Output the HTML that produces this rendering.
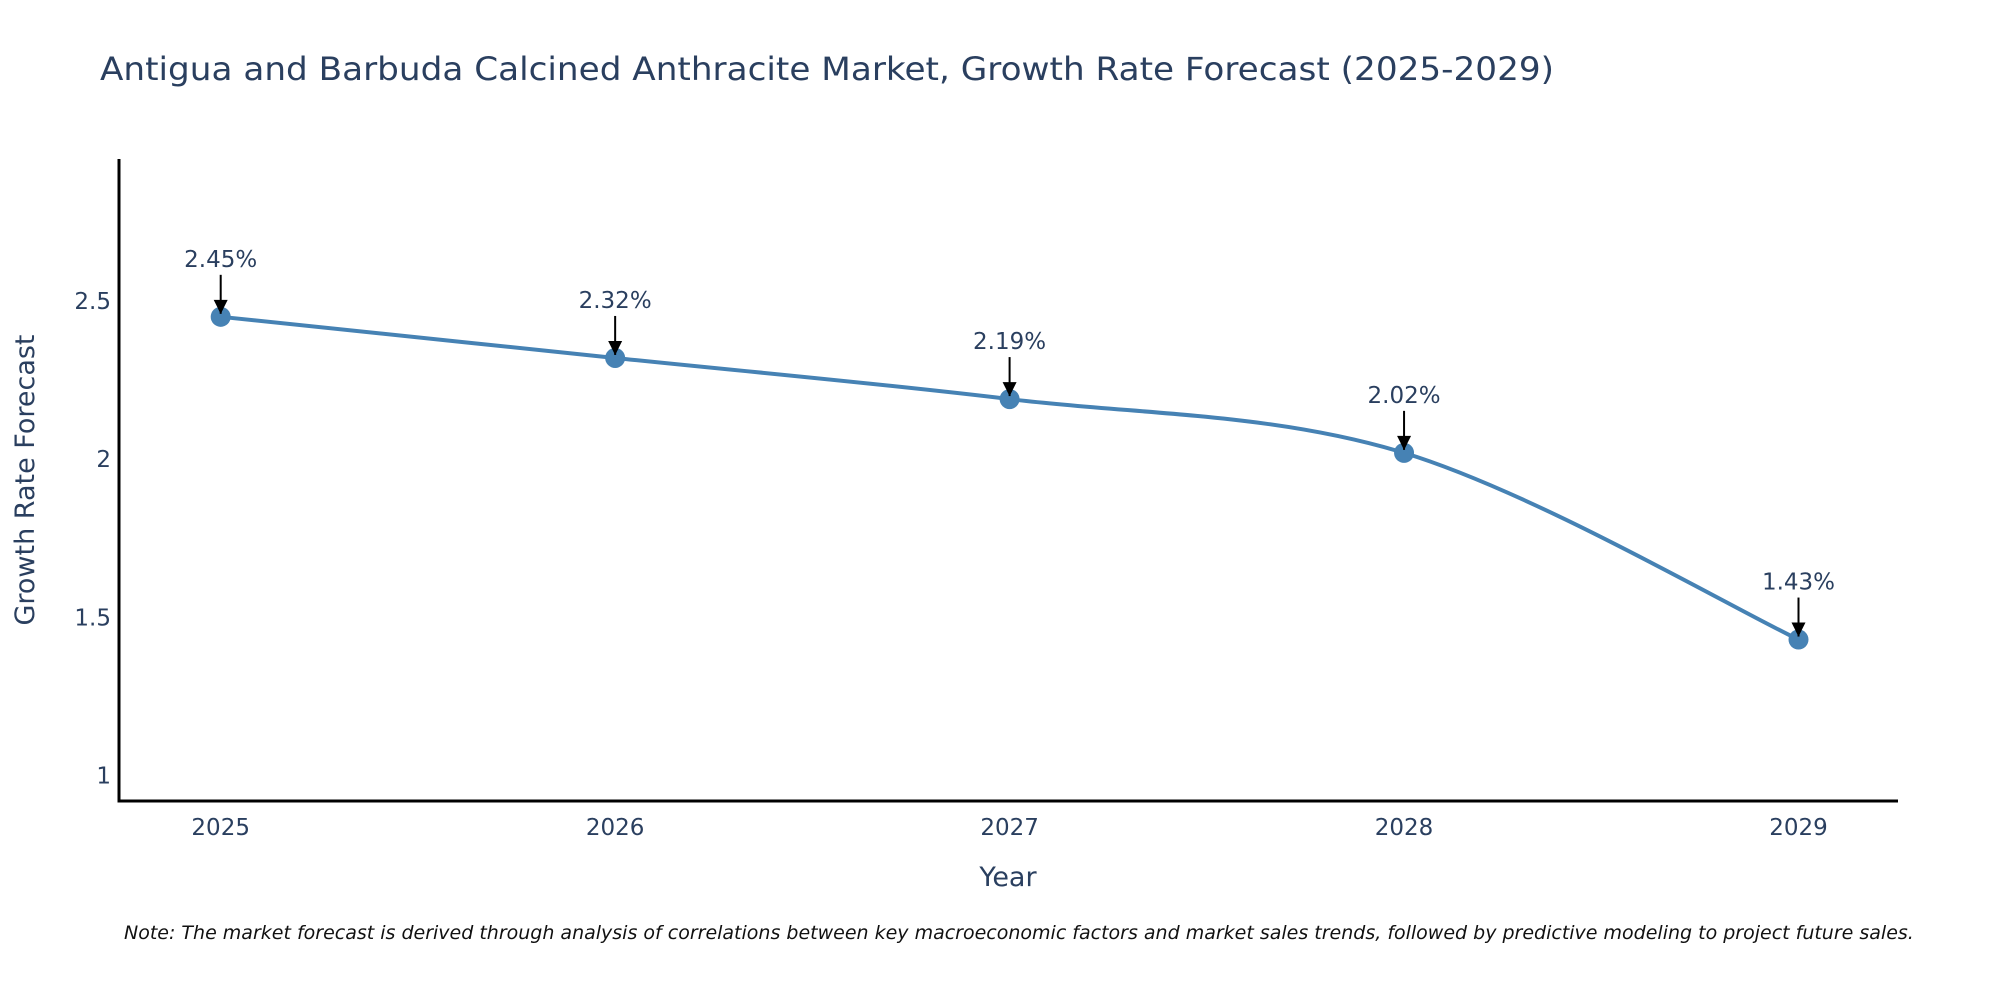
<!DOCTYPE html>
<html><head><meta charset="utf-8"><style>
html,body{margin:0;padding:0;background:#fff;}
svg{display:block;font-family:"DejaVu Sans","Liberation Sans",sans-serif;}
</style></head><body>
<svg id="chart" width="2000" height="1000" xmlns="http://www.w3.org/2000/svg">
<text x="100" y="80" font-size="32" fill="#2a3f5f" textLength="1454" lengthAdjust="spacingAndGlyphs">Antigua and Barbuda Calcined Anthracite Market, Growth Rate Forecast (2025-2029)</text>
<g id="yticks"></g>
<g id="xticks"></g>
<line x1="119" y1="159" x2="119" y2="802" stroke="#000" stroke-width="3"/>
<line x1="117.5" y1="801" x2="1898" y2="801" stroke="#000" stroke-width="3"/>
<path id="line" fill="none" stroke="#4682b4" stroke-width="4"/>
<g id="points"></g>
<g id="annots"></g>
<text x="0" y="0" transform="translate(34,480) rotate(-90)" text-anchor="middle" font-size="27" fill="#2a3f5f">Growth Rate Forecast</text>
<text x="1008" y="886" text-anchor="middle" font-size="27" fill="#2a3f5f">Year</text>
<text x="124" y="939" font-size="19" font-style="italic" fill="#111">Note: The market forecast is derived through analysis of correlations between key macroeconomic factors and market sales trends, followed by predictive modeling to project future sales.</text>
<defs><marker id="ah" viewBox="0 0 10 10" refX="10" refY="5" markerWidth="6" markerHeight="6" markerUnits="userSpaceOnUse" orient="auto"><path d="M0,0L10,5L0,10z" fill="#000"/></marker></defs>
</svg>
<script>
const years = ["2025","2026","2027","2028","2029"];
const values = [2.45, 2.32, 2.19, 2.02, 1.43];
const labels = ["2.45%","2.32%","2.19%","2.02%","1.43%"];
const yTicks = [1, 1.5, 2, 2.5];
const yTickLabels = ["1","1.5","2","2.5"];

const NS="http://www.w3.org/2000/svg";
function xs(i){return 220.7 + i*394.45;}
function ys(v){return 775.6 - (v-1)*316.4;}
function mk(tag,attrs,parent){const e=document.createElementNS(NS,tag);for(const k in attrs)e.setAttribute(k,attrs[k]);parent.appendChild(e);return e;}

const yg=document.getElementById('yticks');
yTicks.forEach((t,i)=>{
  const e=mk('text',{x:111,y:ys(t)+8,'text-anchor':'end','font-size':23,fill:'#2a3f5f'},yg);
  
  
  e.textContent=yTickLabels[i];
});
const xg=document.getElementById('xticks');
years.forEach((y,i)=>{
  const e=mk('text',{x:xs(i),y:835,'text-anchor':'middle','font-size':23,fill:'#2a3f5f'},xg);
  
  
  e.textContent=y;
});

const pts=values.map((v,i)=>[xs(i),ys(v)]);
let d='M'+pts[0][0]+','+pts[0][1];
const t=1/6;
for(let i=0;i<pts.length-1;i++){
  const p0=pts[Math.max(0,i-1)],p1=pts[i],p2=pts[i+1],p3=pts[Math.min(pts.length-1,i+2)];
  const c1=[p1[0]+(p2[0]-p0[0])*t,p1[1]+(p2[1]-p0[1])*t];
  const c2=[p2[0]-(p3[0]-p1[0])*t,p2[1]-(p3[1]-p1[1])*t];
  d+=' C'+c1.join(',')+' '+c2.join(',')+' '+p2.join(',');
}
document.getElementById('line').setAttribute('d',d);

const pg=document.getElementById('points'), ag=document.getElementById('annots');
pts.forEach((p,i)=>{
  const c=mk('circle',{cx:p[0],cy:p[1],r:10,fill:'#4682b4'},pg);
  
  
  const l=mk('line',{x1:p[0],y1:p[1]-42,x2:p[0],y2:p[1]-3,stroke:'#000','stroke-width':2,'marker-end':'url(#ah)'},ag);
  
  
  const ah=mk('path',{d:'M'+(p[0]-7)+','+(p[1]-17)+' L'+(p[0]+7)+','+(p[1]-17)+' L'+p[0]+','+(p[1]-3)+' Z',fill:'#000'},ag);
  
  
  const tx=mk('text',{x:p[0],y:p[1]-50,'text-anchor':'middle','font-size':23,fill:'#2a3f5f'},ag);
  
  
  tx.textContent=labels[i];
});
</script>
</body></html>
